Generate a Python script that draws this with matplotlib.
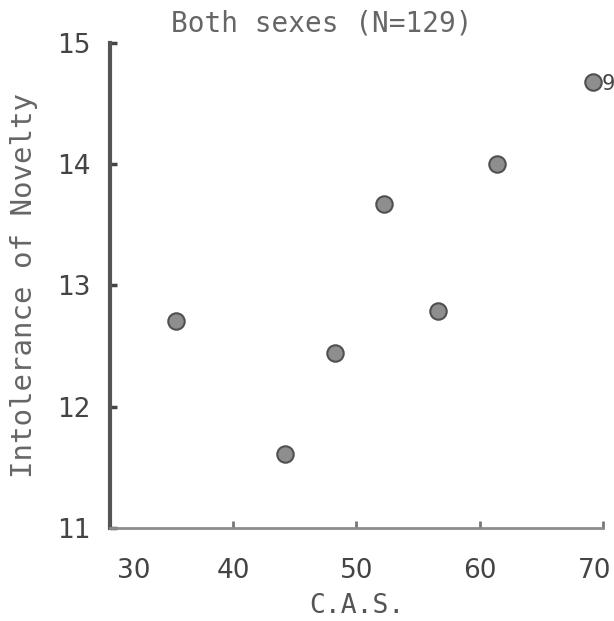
import numpy as np
import matplotlib.pyplot as plt
import matplotlib.transforms as mtransforms
plt.rcParams.update({'font.size': 18})

# values
cas = [35.4, 44.2, 48.3, 52.2, 56.6, 61.4, 69.2]
novelty = [12.71, 11.61, 12.44, 13.67, 12.79, 14.0, 14.68]
pointLabel = "9"

xTicks = [30, 40, 50, 60, 70]
yTicks = [11, 12, 13, 14, 15]

fig = plt.figure(figsize=(6.14, 6.21), dpi=100)
ax1 = fig.add_axes([0.179, 0.150, 0.803, 0.781])

ax1.scatter(
    cas,
    novelty,
    s=140,
    color="#8e8e8e",
    edgecolors="#505050",
    linewidths=1.5,
    zorder=3
)

ax1.annotate(
    pointLabel,
    xy=(cas[-1], novelty[-1]),
    xytext=(6, 0),
    textcoords="offset points",
    va="center_baseline",
    ha="left",
    fontsize=15,
    family="DejaVu Sans",
    color="#444444",
    annotation_clip=False
)

ax1.set_xlim(30, 70)
ax1.set_ylim(11, 15)

ax1.set_xticks(xTicks)
ax1.set_yticks(yTicks)

for side in ["top", "right"]:
    ax1.spines[side].set_visible(False)

ax1.spines["left"].set_linewidth(3)
ax1.spines["left"].set_color("#555555")
ax1.spines["bottom"].set_linewidth(2)
ax1.spines["bottom"].set_color("#8c8c8c")
ax1.spines["bottom"].set_linestyle((0, (6, 1)))

ax1.tick_params(axis="y", direction="in", length=5, width=2.5, color="#444444",
                pad=14, labelsize=19, labelcolor="#444444")
ax1.tick_params(axis="x", direction="in", length=5, width=2, color="#777777",
                pad=22, labelsize=19, labelcolor="#444444")

# nudge the end labels like in the scan
xLabels = ax1.get_xticklabels()
xLabels[0].set_transform(xLabels[0].get_transform()
                         + mtransforms.ScaledTranslation(0.24, 0, fig.dpi_scale_trans))
xLabels[-1].set_transform(xLabels[-1].get_transform()
                          + mtransforms.ScaledTranslation(-0.08, 0, fig.dpi_scale_trans))

ax1.set_xlabel("C.A.S.", family="DejaVu Sans Mono", fontsize=19,
               color="#555555", labelpad=6)
ax1.set_ylabel("Intolerance of Novelty", family="DejaVu Sans Mono",
               fontsize=21, color="#666666", labelpad=14)

ax1.set_title("Both sexes (N=129)", family="DejaVu Sans Mono", fontsize=20,
              color="#666666", pad=8, x=0.43)

fig.savefig("out.png", dpi=100)
